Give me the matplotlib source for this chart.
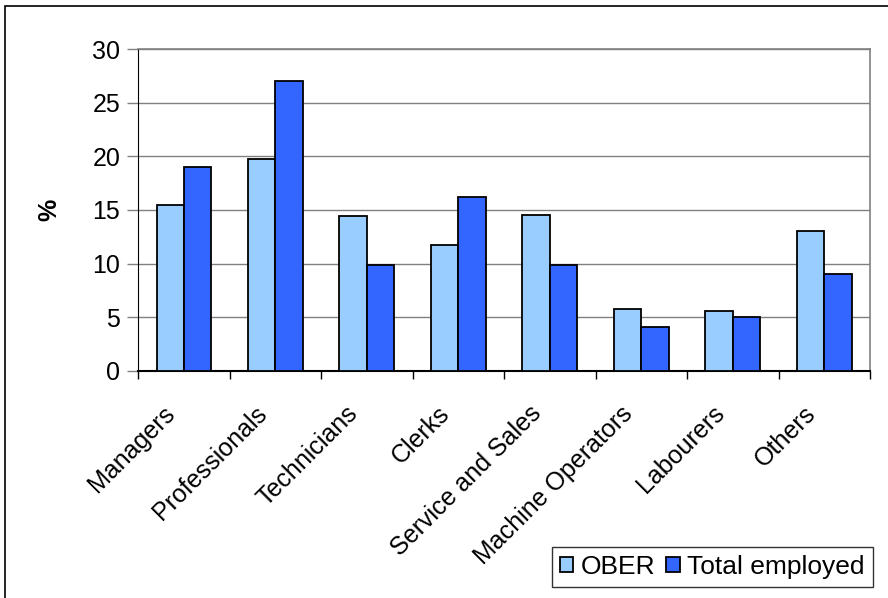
import numpy as np
import matplotlib
matplotlib.use("Agg")
import matplotlib.pyplot as plt
from matplotlib.patches import Rectangle
from matplotlib.transforms import ScaledTranslation

categories = ["Managers", "Professionals", "Technicians", "Clerks",
              "Service and Sales", "Machine Operators", "Labourers", "Others"]
ober = [15.5, 19.7, 14.4, 11.7, 14.5, 5.8, 5.6, 13.0]
total_employed = [19.0, 27.0, 9.9, 16.2, 9.9, 4.1, 5.0, 9.0]
y_ticks = [0, 5, 10, 15, 20, 25, 30]

plt.rcParams["font.family"] = ["Liberation Sans", "DejaVu Sans"]

fig = plt.figure(figsize=(8.88, 5.98), dpi=100)
ax = fig.add_axes([0.1557, 0.380, 0.824, 0.538])

x = np.arange(len(categories))
width = 0.3
ax.bar(x - width / 2, ober, width, color="#99CCFF", edgecolor="black",
       linewidth=1.3, label="OBER", zorder=3)
ax.bar(x + width / 2, total_employed, width, color="#3366FF", edgecolor="black",
       linewidth=1.3, label="Total employed", zorder=3)

ax.set_xlim(-0.5, len(categories) - 0.5)
ax.set_ylim(0, 30)
ax.set_yticks(y_ticks)
ax.tick_params(axis="y", labelsize=18, length=8, width=1, color="#808080", pad=5)
ax.yaxis.grid(True, color="#808080", linewidth=1, zorder=0)

# category boundary ticks, labels at centres
ax.set_xticks(np.arange(-0.5, len(categories) + 0.5, 1))
ax.set_xticklabels([])
ax.set_xticks(x, minor=True)
ax.set_xticklabels(categories, minor=True, rotation=45, ha="right",
                   rotation_mode="anchor", fontsize=18)
ax.tick_params(axis="x", which="major", length=6, width=1, color="black")
ax.tick_params(axis="x", which="minor", length=0, pad=22)
shift = ScaledTranslation(-21 / 100, 0, fig.dpi_scale_trans)
for label in ax.get_xticklabels(minor=True):
    label.set_transform(label.get_transform() + shift)

for side in ("top", "right"):
    ax.spines[side].set_color("#808080")
    ax.spines[side].set_linewidth(1.2)
ax.spines["left"].set_color("black")
ax.spines["bottom"].set_color("black")
ax.spines["bottom"].set_linewidth(1.5)

ax.set_ylabel("%", fontsize=18, fontweight="bold", labelpad=22)

leg = ax.legend(loc="lower right", bbox_to_anchor=(0.983, 0.018),
                bbox_transform=fig.transFigure, ncol=2, fontsize=19,
                frameon=True, fancybox=False, handlelength=0.5, handleheight=0.5,
                handletextpad=0.3, columnspacing=0.4, borderpad=0.3,
                borderaxespad=0)
leg.get_frame().set_edgecolor("black")
leg.get_frame().set_linewidth(1)

fig.patches.append(Rectangle((5 / 888, -0.1), 1.2, 1 - 6 / 598 + 0.1,
                             transform=fig.transFigure, fill=False,
                             edgecolor="black", linewidth=1.2))

fig.savefig("out.png", dpi=100)
